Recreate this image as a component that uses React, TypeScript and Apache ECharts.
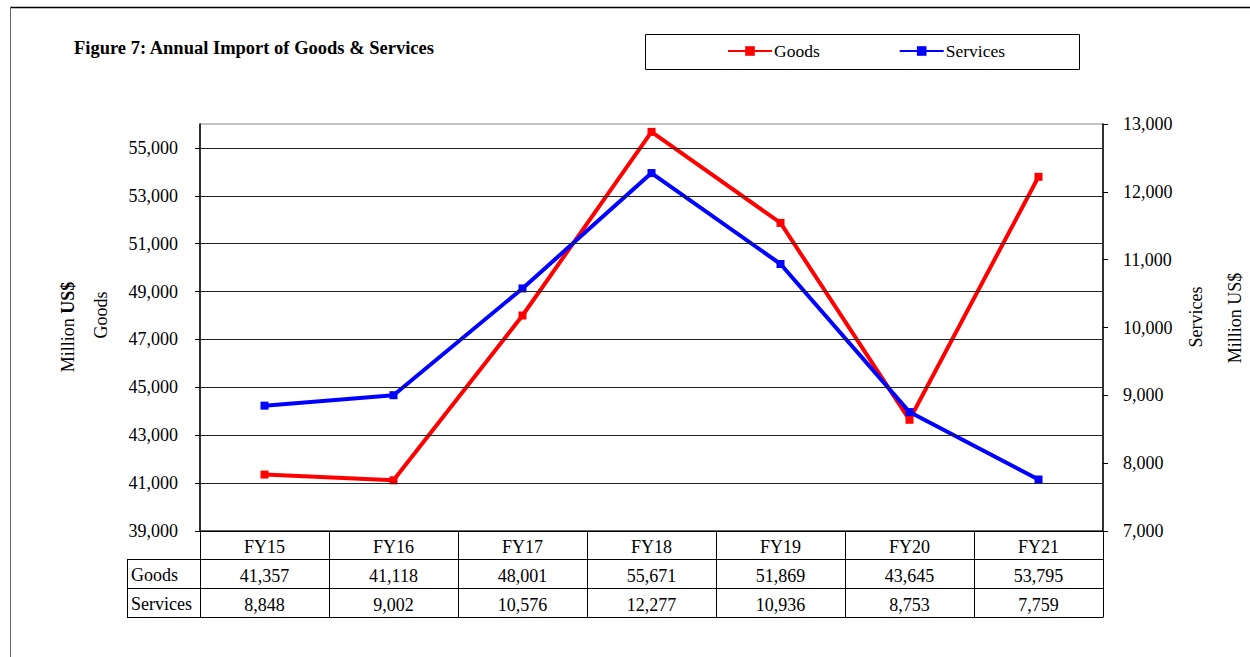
import React, { useEffect, useRef } from "react";
import * as echarts from "echarts";

const categories = ["FY15", "FY16", "FY17", "FY18", "FY19", "FY20", "FY21"];
const goods = [41357, 41118, 48001, 55671, 51869, 43645, 53795];
const services = [8848, 9002, 10576, 12277, 10936, 8753, 7759];
const leftTicks = [39000, 41000, 43000, 45000, 47000, 49000, 51000, 53000, 55000];
const gridLines = [41000, 43000, 45000, 47000, 49000, 51000, 53000, 55000];
const rowLabels = ["Goods", "Services"];

const FONT = "Liberation Serif, serif";
const FS = 18;
const fmt = (v: number) => v.toLocaleString("en-US");

export default function App() {
  const ref = useRef<HTMLDivElement>(null);
  useEffect(() => {
    if (!ref.current) return;
    const chart = echarts.init(ref.current, null, { renderer: "svg" });
    const gl = 200, gt = 124, gw = 903, gh = 407;
    const gb = gt + gh;
    const rowH = 29;
    const tableLines: any[] = [];
    const ln = (x1: number, y1: number, x2: number, y2: number) =>
      tableLines.push({ type: "line", shape: { x1, y1, x2, y2 }, style: { stroke: "#000", lineWidth: 1 }, silent: true });
    ln(gl, gb, gl + gw, gb);
    ln(127, gb + rowH - 0.5, gl + gw, gb + rowH - 0.5);
    ln(127, gb + 2 * rowH - 0.5, gl + gw, gb + 2 * rowH - 0.5);
    ln(127, gb + 3 * rowH - 0.5, gl + gw, gb + 3 * rowH - 0.5);
    ln(127.5, gb + rowH - 0.5, 127.5, gb + 3 * rowH - 0.5);
    const cw = gw / categories.length;
    for (let i = 0; i <= categories.length; i++) {
      const x = Math.round(gl + i * cw) + 0.5;
      ln(x, gb, x, gb + 3 * rowH - 0.5);
    }

    const option: any = {
      animation: false,
      backgroundColor: "#fff",
      textStyle: { fontFamily: FONT },
      grid: { left: gl, top: gt, width: gw, height: gh, show: true, borderColor: "#888", borderWidth: 1 },
      legend: {
        data: ["Goods", "Services"],
        left: 727,
        top: 42,
        padding: 0,
        itemWidth: 44,
        itemHeight: 12,
        itemGap: 79,
        textStyle: { fontFamily: FONT, fontSize: 17.5, color: "#000", padding: [0, 0, 0, -3] },
      },
      xAxis: {
        type: "category",
        data: categories,
        boundaryGap: true,
        axisLine: { show: true, lineStyle: { color: "#000", width: 1 } },
        axisTick: { show: false },
        axisLabel: {
          interval: 0,
          margin: 1,
          fontFamily: FONT,
          fontSize: FS,
          color: "#000",
          lineHeight: rowH,
          formatter: (v: string, i: number) => `${v}\n${fmt(goods[i])}\n${fmt(services[i])}`,
        },
      },
      yAxis: [
        {
          type: "value",
          min: 39000,
          max: 56000,
          interval: 1000,
          position: "left",
          axisLine: { show: true, lineStyle: { color: "#000", width: 1.5 } },
          axisTick: { show: true, length: 5, customValues: leftTicks, lineStyle: { color: "#000" } },
          axisLabel: {
            customValues: leftTicks,
            formatter: (v: number) => fmt(v),
            fontFamily: FONT,
            fontSize: FS,
            color: "#000",
            margin: 22,
          },
          splitLine: { show: false },
        },
        {
          type: "value",
          min: 7000,
          max: 13000,
          interval: 1000,
          position: "right",
          axisLine: { show: true, lineStyle: { color: "#000", width: 1.5 } },
          axisTick: { show: true, length: 5, lineStyle: { color: "#000" } },
          axisLabel: { formatter: (v: number) => fmt(v), fontFamily: FONT, fontSize: FS, color: "#000", margin: 20 },
          splitLine: { show: false },
        },
      ],
      series: [
        {
          name: "gridlines",
          type: "line",
          yAxisIndex: 0,
          data: [],
          z: 1,
          markLine: {
            silent: true,
            symbol: ["none", "none"],
            label: { show: false },
            lineStyle: { color: "#222", width: 1, type: "solid" },
            data: gridLines.map((v) => ({ yAxis: v })),
          },
        },
        {
          name: "Goods",
          type: "line",
          yAxisIndex: 0,
          data: goods,
          z: 3,
          symbol: "rect",
          symbolSize: 8,
          lineStyle: { color: "#FF0000", width: 4 },
          itemStyle: { color: "#FF0000" },
        },
        {
          name: "Services",
          type: "line",
          yAxisIndex: 1,
          data: services,
          z: 3,
          symbol: "rect",
          symbolSize: 8,
          lineStyle: { color: "#0000FF", width: 4 },
          itemStyle: { color: "#0000FF" },
        },
      ],
      graphic: [
        { type: "line", shape: { x1: 10, y1: 7.5, x2: 1250, y2: 7.5 }, style: { stroke: "#000", lineWidth: 1.5 }, silent: true },
        { type: "line", shape: { x1: 10.5, y1: 7, x2: 10.5, y2: 657 }, style: { stroke: "#666", lineWidth: 1 }, silent: true },
        {
          type: "text",
          left: 74,
          top: 38,
          style: { text: "Figure 7: Annual Import of Goods & Services", font: `bold 18.5px ${FONT}`, fill: "#000" },
        },
        { type: "rect", shape: { x: 645.5, y: 34.5, width: 434, height: 35 }, style: { fill: "none", stroke: "#000", lineWidth: 1 }, silent: true },
        ...tableLines,
        ...rowLabels.map((t, i) => ({
          type: "text",
          x: 131,
          y: gb + rowH * (i + 1) + rowH / 2,
          style: { text: t, font: `${FS}px ${FONT}`, fill: "#000", textVerticalAlign: "middle", textAlign: "left" },
        })),
        {
          type: "text",
          x: 68,
          y: 327,
          rotation: Math.PI / 2,
          style: {
            text: "{a|Million }{b|US$}",
            rich: {
              a: { fontFamily: FONT, fontSize: FS, fill: "#000" },
              b: { fontFamily: FONT, fontSize: FS, fontWeight: "bold", fill: "#000" },
            },
            textAlign: "center",
            textVerticalAlign: "middle",
          },
        },
        {
          type: "text",
          x: 101,
          y: 315,
          rotation: Math.PI / 2,
          style: { text: "Goods", font: `${FS}px ${FONT}`, fill: "#000", textAlign: "center", textVerticalAlign: "middle" },
        },
        {
          type: "text",
          x: 1196,
          y: 317,
          rotation: Math.PI / 2,
          style: { text: "Services", font: `${FS}px ${FONT}`, fill: "#000", textAlign: "center", textVerticalAlign: "middle" },
        },
        {
          type: "text",
          x: 1235,
          y: 318,
          rotation: Math.PI / 2,
          style: { text: "Million US$", font: `${FS}px ${FONT}`, fill: "#000", textAlign: "center", textVerticalAlign: "middle" },
        },
      ],
    };
    chart.setOption(option);
    return () => chart.dispose();
  }, []);
  return <div ref={ref} style={{ position: "fixed", left: 0, top: 0, width: 1250, height: 657 }} />;
}
